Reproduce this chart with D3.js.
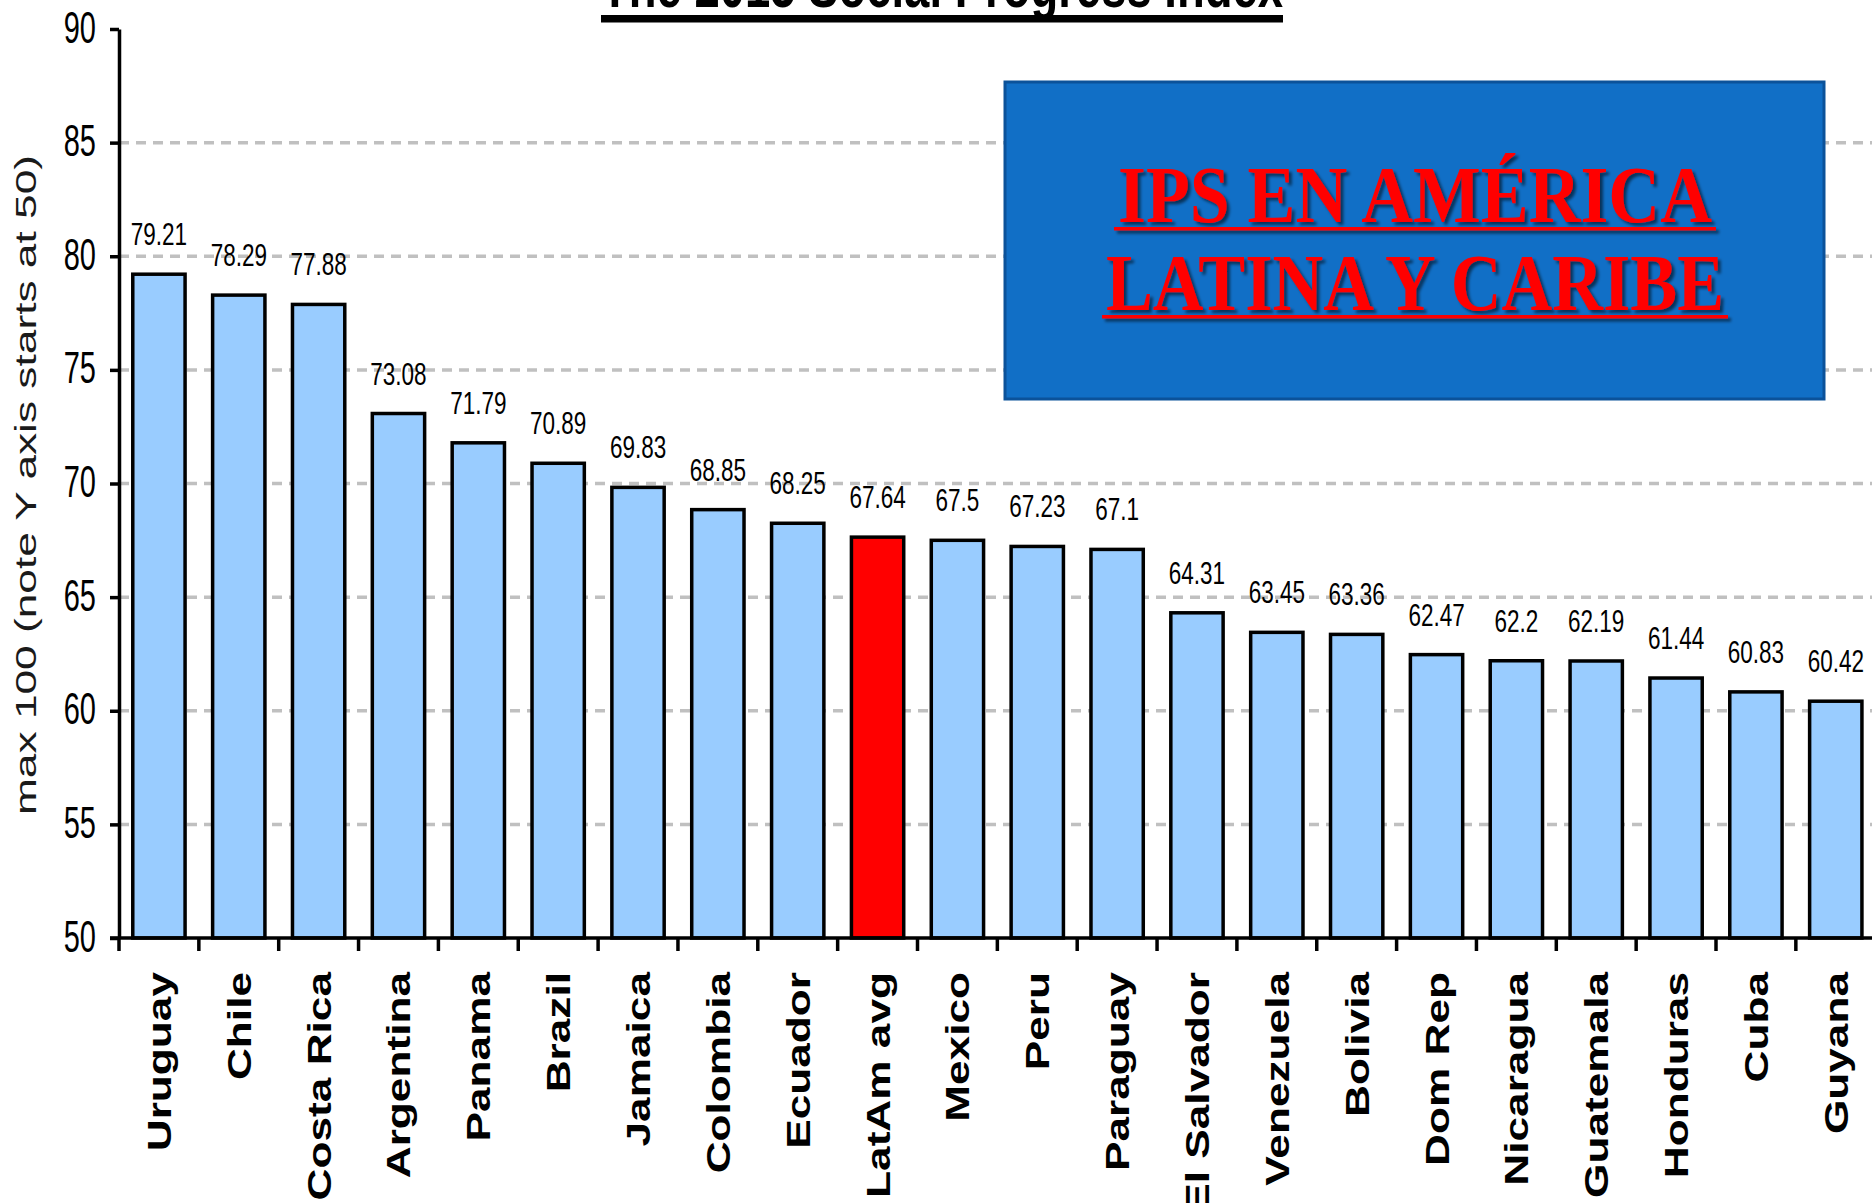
<!DOCTYPE html>
<html>
<head>
<meta charset="utf-8">
<script src="https://cdn.jsdelivr.net/npm/d3@7"></script>
<style>
  html, body { margin: 0; padding: 0; background: #fff; }
  svg { display: block; }
</style>
</head>
<body>
<svg id="chart"></svg>
<script>
// data
const countries = ["Uruguay", "Chile", "Costa Rica", "Argentina", "Panama", "Brazil", "Jamaica",
    "Colombia", "Ecuador", "LatAm avg", "Mexico", "Peru", "Paraguay", "El Salvador", "Venezuela",
    "Bolivia", "Dom Rep", "Nicaragua", "Guatemala", "Honduras", "Cuba", "Guyana"];
const scores = [79.21, 78.29, 77.88, 73.08, 71.79, 70.89, 69.83, 68.85, 68.25, 67.64, 67.5,
    67.23, 67.1, 64.31, 63.45, 63.36, 62.47, 62.2, 62.19, 61.44, 60.83, 60.42];
const scoreLabels = ["79.21", "78.29", "77.88", "73.08", "71.79", "70.89", "69.83", "68.85", "68.25",
    "67.64", "67.5", "67.23", "67.1", "64.31", "63.45", "63.36", "62.47", "62.2", "62.19", "61.44",
    "60.83", "60.42"];
const highlight = "LatAm avg";
const yTicks = [50, 55, 60, 65, 70, 75, 80, 85, 90];
const gridTicks = [55, 60, 65, 70, 75, 80, 85];
const chartTitle = "The 2015 Social Progress Index";
const yTitle = "max 100 (note Y axis starts at 50)";
const boxLines = ["IPS EN AMÉRICA", "LATINA Y CARIBE"];

const width = 1872;
const height = 1203;
const plotLeft = 119, plotTop = 29, plotBottom = 938;
const step = 79.85;
const plotRight = plotLeft + step * countries.length;

const svg = d3.select("#chart")
    .attr("width", width)
    .attr("height", height)
    .attr("viewBox", [0, 0, width, height]);

const defs = svg.append("defs");
defs.append("filter").attr("id", "shadow")
    .attr("x", "-10%").attr("y", "-10%").attr("width", "120%").attr("height", "130%")
    .append("feDropShadow")
    .attr("dx", 3).attr("dy", 3).attr("stdDeviation", 1.5)
    .attr("flood-color", "#000").attr("flood-opacity", 0.55);

const x = d3.scaleBand()
    .domain(countries)
    .range([plotLeft, plotRight])
    .paddingInner(0.345)
    .paddingOuter(0.1725);

const y = d3.scaleLinear()
    .domain([50, 90])
    .range([plotBottom, plotTop]);

const data = countries.map((c, i) => ({ name: c, value: scores[i], label: scoreLabels[i] }));

// dashed gridlines
svg.append("g")
    .selectAll("line")
    .data(gridTicks)
    .join("line")
    .attr("x1", plotLeft)
    .attr("x2", plotRight)
    .attr("y1", d => y(d))
    .attr("y2", d => y(d))
    .attr("stroke", "#c0c0c0")
    .attr("stroke-width", 3.5)
    .attr("stroke-dasharray", "10,7");

// bars
svg.append("g")
    .selectAll("rect")
    .data(data)
    .join("rect")
    .attr("x", d => x(d.name))
    .attr("y", d => y(d.value))
    .attr("width", x.bandwidth())
    .attr("height", d => y(50) - y(d.value))
    .attr("fill", d => d.name === highlight ? "#ff0000" : "#99ccff")
    .attr("stroke", "#000")
    .attr("stroke-width", 3.5);

// value labels above the bars
svg.append("g")
    .selectAll("text")
    .data(data)
    .join("text")
    .attr("transform", d => `translate(${x(d.name) + x.bandwidth() / 2},${y(d.value) - 29}) scale(1,1.4)`)
    .attr("text-anchor", "middle")
    .attr("font-family", "'Liberation Sans', Arial, sans-serif")
    .attr("font-size", 22.5)
    .attr("fill", "#000")
    .text(d => d.label);

// y axis
const yAxis = svg.append("g")
    .attr("transform", `translate(${plotLeft},0)`)
    .call(d3.axisLeft(y).tickValues(yTicks).tickSize(9).tickSizeOuter(0).tickFormat(d3.format("d")));
yAxis.select(".domain").attr("stroke", "#000").attr("stroke-width", 3.5);
yAxis.selectAll(".tick line").attr("stroke", "#000").attr("stroke-width", 3.5);
yAxis.selectAll(".tick text")
    .attr("x", null)
    .attr("dy", null)
    .attr("transform", "translate(-23,13) scale(1,1.5)")
    .attr("font-family", "'Liberation Sans', Arial, sans-serif")
    .attr("font-size", 29)
    .attr("fill", "#000");

// x axis line and boundary ticks
svg.append("line")
    .attr("x1", plotLeft - 9).attr("x2", plotRight)
    .attr("y1", plotBottom).attr("y2", plotBottom)
    .attr("stroke", "#000").attr("stroke-width", 3.5);

svg.append("g")
    .selectAll("line")
    .data(d3.range(countries.length + 1))
    .join("line")
    .attr("x1", i => x.range()[0] + i * x.step())
    .attr("x2", i => x.range()[0] + i * x.step())
    .attr("y1", plotBottom)
    .attr("y2", plotBottom + 13)
    .attr("stroke", "#000")
    .attr("stroke-width", 3.5);

// rotated category labels
svg.append("g")
    .selectAll("text")
    .data(data)
    .join("text")
    .attr("transform", d => `translate(${x(d.name) + x.bandwidth() / 2 + 12},972) scale(1,1.3) rotate(-90)`)
    .attr("text-anchor", "end")
    .attr("font-family", "'Liberation Sans', Arial, sans-serif")
    .attr("font-weight", "bold")
    .attr("font-size", 34)
    .attr("fill", "#000")
    .text(d => d.name);

// y axis title
svg.append("text")
    .attr("transform", "translate(36,485) rotate(-90)")
    .attr("text-anchor", "middle")
    .attr("font-family", "'Liberation Sans', Arial, sans-serif")
    .attr("font-size", 30)
    .attr("textLength", 660)
    .attr("lengthAdjust", "spacingAndGlyphs")
    .attr("fill", "#1a1a1a")
    .text(yTitle);

// chart title, mostly cut off by the top edge
svg.append("text")
    .attr("transform", "translate(942,7) scale(1,1.4)")
    .attr("text-anchor", "middle")
    .attr("font-family", "'Liberation Sans', Arial, sans-serif")
    .attr("font-weight", "bold")
    .attr("font-size", 45)
    .attr("textLength", 682)
    .attr("lengthAdjust", "spacingAndGlyphs")
    .attr("fill", "#000")
    .text(chartTitle);
svg.append("rect")
    .attr("x", 942 - 341).attr("y", 15)
    .attr("width", 682).attr("height", 7.5)
    .attr("fill", "#000");

// blue box with the spanish heading
svg.append("rect")
    .attr("x", 1005).attr("y", 82)
    .attr("width", 819).attr("height", 317)
    .attr("fill", "#116fc6")
    .attr("stroke", "#0b529a")
    .attr("stroke-width", 3);

const boxText = svg.append("g").attr("filter", "url(#shadow)");
const lineBase = [222, 310];
const lineWidth = [594, 618];
boxLines.forEach((t, i) => {
    boxText.append("text")
        .attr("transform", `translate(1415,${lineBase[i]}) scale(1,1.14)`)
        .attr("text-anchor", "middle")
        .attr("font-family", "'Liberation Serif', 'Times New Roman', serif")
        .attr("font-weight", "bold")
        .attr("font-size", 71)
        .attr("textLength", lineWidth[i])
        .attr("lengthAdjust", "spacingAndGlyphs")
        .attr("fill", "#ff0000")
        .text(t);
    boxText.append("rect")
        .attr("x", 1415 - lineWidth[i] / 2 - 4)
        .attr("y", lineBase[i] + 5)
        .attr("width", lineWidth[i] + 8)
        .attr("height", 3.5)
        .attr("fill", "#ff0000");
});
</script>
</body>
</html>
